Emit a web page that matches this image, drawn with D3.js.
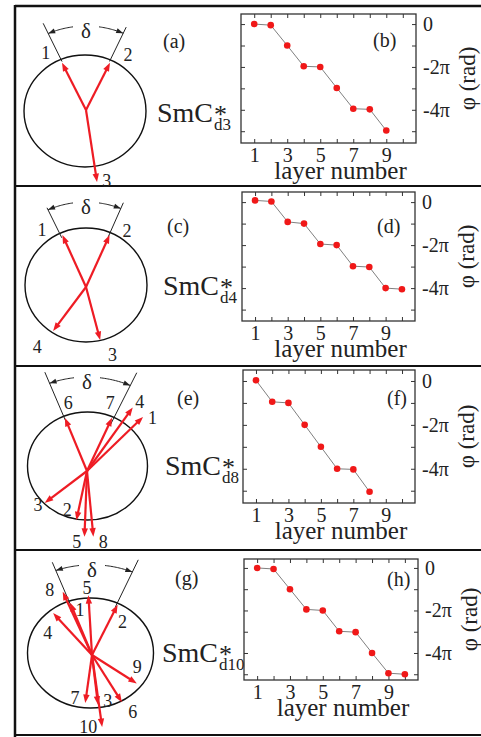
<!DOCTYPE html>
<html>
<head>
<meta charset="utf-8">
<script src="https://cdn.jsdelivr.net/npm/d3@7/dist/d3.min.js"></script>
<style>
body { margin: 0; background: #fff; }
svg { display: block; }
text { font-family: "Liberation Serif", "DejaVu Serif", serif; fill: #222; }
</style>
</head>
<body>
<svg width="481" height="737"></svg>
<script>
// phase of each smectic layer, in units of pi
var layersB = [1, 2, 3, 4, 5, 6, 7, 8, 9];
var phiB = [0, -0.05, -1.0, -1.97, -2.0, -2.98, -3.95, -3.98, -4.97];
var layersD = [1, 2, 3, 4, 5, 6, 7, 8, 9, 10];
var phiD = [0.08, 0.03, -0.92, -1.0, -1.95, -2.0, -2.98, -3.02, -4.0, -4.05];
var layersF = [1, 2, 3, 4, 5, 6, 7, 8];
var phiF = [0.03, -0.95, -1.0, -2.0, -3.0, -4.0, -4.03, -5.05];
var layersH = [1, 2, 3, 4, 5, 6, 7, 8, 9, 10];
var phiH = [0, -0.05, -1.0, -1.95, -2.0, -2.98, -3.02, -4.0, -4.95, -5.0];

var xTicks = [1, 2, 3, 4, 5, 6, 7, 8, 9, 10];
var xTickLabels = [1, 3, 5, 7, 9];
var yTicks = [0, -1, -2, -3, -4, -5];
var yTickLabels = {"0": "0", "-2": "-2\u03c0", "-4": "-4\u03c0"};

// director projections: [layer, azimuth (deg), length, label azimuth, label radius]
var arrowsA = [["1", -25, 0.93, -33, 1.21], ["2", 25, 0.93, 34.6, 1.21], ["3", 172, 1.30, 164.8, 1.30]];
var arrowsC = [["1", -23, 0.99, -35.8, 1.23], ["2", 23, 0.99, 34, 1.2],
               ["3", 166, 0.96, 160, 1.27], ["4", 215, 0.94, 217.3, 1.32]];
var arrowsE = [["1", 43, 1.37, 48, 1.47], ["2", 191, 0.93, 204.6, 0.79],
               ["3", 230, 0.92, 232.5, 1.03], ["4", 33, 1.40, 34.5, 1.55],
               ["5", 182, 1.22, 187.4, 1.32], ["6", -20.5, 1.05, -14, 1.30],
               ["7", 23, 1.07, 17, 1.32], ["8", 175, 1.22, 168.4, 1.34]];
var arrowsG = [["1", -20, 1.01, -13, 0.84], ["2", 24, 1.0, 39, 0.77],
               ["3", 174, 0.91, 163, 0.86], ["4", -39, 0.98, -60, 0.81],
               ["5", -3, 1.09, -3.8, 1.22], ["6", 151, 0.98, 148, 1.22],
               ["7", 187, 0.88, 199, 0.83], ["8", -22, 1.24, -29.6, 1.36],
               ["9", 126, 0.88, 107, 0.75], ["10", 173, 1.32, 182.6, 1.31]];

// cone edges: [left angle, right angle, left length, right length], delta arc radius
var coneA = [-24.4, 24, 1.70, 1.62], arcA = 1.5;
var coneC = [-24.7, 22.5, 1.53, 1.6], arcC = 1.49;
var coneE = [-21, 24.5, 1.96, 2.0], arcE = 1.74;
var coneG = [-20.5, 23, 1.8, 1.88], arcG = 1.64;

var svg = d3.select("svg");
var red = "#ee1c24";

// frame
svg.append("line").attr("x1", 15).attr("x2", 481).attr("y1", 6).attr("y2", 6)
    .attr("stroke", "#111").attr("stroke-width", 2.5);
svg.append("line").attr("x1", 15).attr("x2", 15).attr("y1", 5).attr("y2", 737)
    .attr("stroke", "#111").attr("stroke-width", 2.5);
[186, 366, 550].forEach(function (yy) {
    svg.append("line").attr("x1", 15).attr("x2", 481).attr("y1", yy).attr("y2", yy)
        .attr("stroke", "#111").attr("stroke-width", 2);
});
svg.append("line").attr("x1", 15).attr("x2", 481).attr("y1", 735).attr("y2", 735)
    .attr("stroke", "#111").attr("stroke-width", 2);

function headPath(x1, y1, x2, y2, len, w) {
    var dx = x2 - x1, dy = y2 - y1, d = Math.sqrt(dx * dx + dy * dy);
    var ux = dx / d, uy = dy / d;
    var bx = x2 - ux * len, by = y2 - uy * len;
    return "M" + x2 + "," + y2 + "L" + (bx - uy * w) + "," + (by + ux * w) +
        "L" + (bx + uy * w) + "," + (by - ux * w) + "Z";
}

function drawCone(cfg, arrows, cone, arcR) {
    var g = svg.append("g");
    var sx = d3.scaleLinear().domain([-1, 1]).range([cfg.ox - cfg.rx, cfg.ox + cfg.rx]);
    var sy = d3.scaleLinear().domain([-1, 1]).range([cfg.oy + cfg.ry, cfg.oy - cfg.ry]);
    var rad = Math.PI / 180;
    function px(a, r) { return sx(r * Math.sin(a * rad)); }
    function py(a, r) { return sy(r * Math.cos(a * rad)); }

    g.append("ellipse").attr("cx", cfg.cx).attr("cy", cfg.cy)
        .attr("rx", cfg.rx).attr("ry", cfg.ry)
        .attr("fill", "none").attr("stroke", "#111").attr("stroke-width", 1.4);

    // cone edges
    [[cone[0], cone[2]], [cone[1], cone[3]]].forEach(function (c) {
        g.append("line")
            .attr("x1", px(c[0], 0.95)).attr("y1", py(c[0], 0.95))
            .attr("x2", px(c[0], c[1])).attr("y2", py(c[0], c[1]))
            .attr("stroke", "#222").attr("stroke-width", 1);
    });

    // delta arc, split around the label
    var gap = Math.asin(13 / (arcR * cfg.rx)) / rad;
    var arcLine = d3.line().x(function (a) { return px(a, arcR); })
        .y(function (a) { return py(a, arcR); }).curve(d3.curveLinear);
    [[-gap, cone[0]], [gap, cone[1]]].forEach(function (s) {
        var pts = d3.range(0, 21).map(function (i) { return s[0] + (s[1] - s[0]) * i / 20; });
        g.append("path").attr("d", arcLine(pts)).attr("fill", "none")
            .attr("stroke", "#222").attr("stroke-width", 1);
        var a1 = pts[18], a2 = pts[20];
        g.append("path").attr("d", headPath(px(a1, arcR), py(a1, arcR), px(a2, arcR), py(a2, arcR), 7, 2.5))
            .attr("fill", "#222");
    });
    g.append("text").attr("x", px(0, arcR)).attr("y", py(0, arcR) + 12)
        .attr("text-anchor", "middle").attr("font-size", 21).text("\u03b4");

    // director arrows
    arrows.forEach(function (d) {
        var tx = px(d[1], d[2]), ty = py(d[1], d[2]);
        var dx = tx - cfg.ox, dy = ty - cfg.oy, L = Math.sqrt(dx * dx + dy * dy);
        g.append("line").attr("x1", cfg.ox).attr("y1", cfg.oy)
            .attr("x2", tx - dx / L * 6).attr("y2", ty - dy / L * 6)
            .attr("stroke", red).attr("stroke-width", 2.2);
        g.append("path").attr("d", headPath(cfg.ox, cfg.oy, tx, ty, 8.5, 3.2)).attr("fill", red);
        g.append("text").attr("x", px(d[3], d[4])).attr("y", py(d[3], d[4]))
            .attr("dy", "0.35em").attr("text-anchor", "middle")
            .attr("font-size", 18).text(d[0]);
    });

    g.append("text").attr("x", cfg.lx).attr("y", cfg.ly).attr("font-size", 20).text(cfg.letter);

    // SmC*_dN as one text with super/subscript tspans
    var s = g.append("text").attr("x", cfg.sx).attr("y", cfg.sy);
    s.append("tspan").attr("font-size", 28).text("SmC");
    s.append("tspan").attr("font-size", 26).attr("dx", 1).attr("dy", 1).text("*");
    s.append("tspan").attr("font-size", 17).attr("dx", -13).attr("dy", 7).text(cfg.sub);
}

function drawPlot(cfg, layers, phi) {
    var g = svg.append("g");
    var x = d3.scaleLinear().domain([0.2, 10.8]).range([cfg.l, cfg.r]);
    var y = d3.scaleLinear().domain(cfg.yd).range([cfg.b, cfg.t]);

    var fmtX = function (d) { return xTickLabels.indexOf(d) >= 0 ? d : ""; };
    var fmtY = function (d) { return yTickLabels[String(d)] || ""; };

    g.append("g").attr("transform", "translate(0," + cfg.b + ")")
        .call(d3.axisBottom(x).tickValues(xTicks).tickSizeInner(-4).tickSizeOuter(0)
            .tickPadding(5).tickFormat(fmtX));
    g.append("g").attr("transform", "translate(0," + cfg.t + ")")
        .call(d3.axisTop(x).tickValues(xTicks).tickSizeInner(-4).tickSizeOuter(0).tickFormat(""));
    g.append("g").attr("transform", "translate(" + cfg.l + ",0)")
        .call(d3.axisLeft(y).tickValues(yTicks).tickSizeInner(-4).tickSizeOuter(0).tickFormat(""));
    g.append("g").attr("transform", "translate(" + cfg.r + ",0)")
        .call(d3.axisRight(y).tickValues(yTicks).tickSizeInner(-4).tickSizeOuter(0)
            .tickPadding(7).tickFormat(fmtY));

    g.selectAll(".domain").remove();
    g.selectAll(".tick line").attr("stroke", "#333").attr("stroke-width", 1);
    g.selectAll(".tick text").attr("font-size", 20).attr("fill", "#222")
        .attr("font-family", "Liberation Serif, DejaVu Serif, serif");

    g.append("rect").attr("x", cfg.l).attr("y", cfg.t)
        .attr("width", cfg.r - cfg.l).attr("height", cfg.b - cfg.t)
        .attr("fill", "none").attr("stroke", "#333").attr("stroke-width", 1.3);

    var pts = layers.map(function (n, i) { return [n, phi[i]]; });
    g.append("path").attr("d", d3.line().x(function (d) { return x(d[0]); })
        .y(function (d) { return y(d[1]); })(pts))
        .attr("fill", "none").attr("stroke", "#808080").attr("stroke-width", 1);
    g.selectAll("circle").data(pts).enter().append("circle")
        .attr("cx", function (d) { return x(d[0]); })
        .attr("cy", function (d) { return y(d[1]); })
        .attr("r", 3.3).attr("fill", "#f01818");

    g.append("text").attr("x", cfg.lx).attr("y", cfg.ly).attr("font-size", 20).text(cfg.letter);
    g.append("text").attr("x", (cfg.l + cfg.r) / 2 + 12).attr("y", cfg.b + 36)
        .attr("text-anchor", "middle").attr("font-size", 25).text("layer number");
    g.append("text")
        .attr("transform", "translate(" + (cfg.r + 59) + "," + ((cfg.t + cfg.b) / 2) + ") rotate(-90)")
        .attr("text-anchor", "middle").attr("font-size", 23).text("\u03c6 (rad)");
}

drawCone({cx: 85, cy: 111, rx: 61, ry: 56, ox: 86, oy: 110, letter: "(a)", lx: 163, ly: 48,
    sx: 157, sy: 122, sub: "d3"}, arrowsA, coneA, arcA);
drawCone({cx: 86, cy: 285, rx: 61, ry: 57, ox: 86, oy: 287, letter: "(c)", lx: 167, ly: 233,
    sx: 163, sy: 295, sub: "d4"}, arrowsC, coneC, arcC);
drawCone({cx: 87.5, cy: 466, rx: 60, ry: 54, ox: 87, oy: 471, letter: "(e)", lx: 177, ly: 405,
    sx: 165, sy: 475, sub: "d8"}, arrowsE, coneE, arcE);
drawCone({cx: 90.5, cy: 653, rx: 63, ry: 55, ox: 92, oy: 655, letter: "(g)", lx: 175, ly: 585,
    sx: 162, sy: 662, sub: "d10"}, arrowsG, coneG, arcG);

drawPlot({l: 241, r: 416, t: 14, b: 143, yd: [-5.55, 0.47], letter: "(b)", lx: 373, ly: 47},
    layersB, phiB);
drawPlot({l: 242, r: 415, t: 192, b: 321, yd: [-5.53, 0.47], letter: "(d)", lx: 377, ly: 233},
    layersD, phiD);
drawPlot({l: 243, r: 415, t: 370, b: 503, yd: [-5.56, 0.5], letter: "(f)", lx: 387, ly: 405},
    layersF, phiF);
drawPlot({l: 244, r: 418, t: 559, b: 680, yd: [-5.27, 0.42], letter: "(h)", lx: 387, ly: 586},
    layersH, phiH);
</script>
</body>
</html>
